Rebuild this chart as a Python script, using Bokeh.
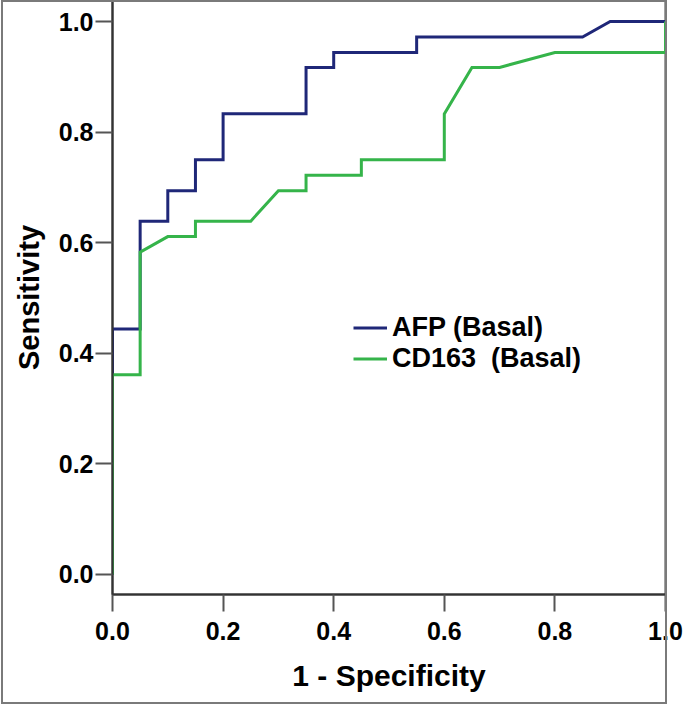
from bokeh.plotting import figure
from bokeh.models import Range1d, FixedTicker, Legend, LegendItem, CustomJSTickFormatter, InlineStyleSheet
from bokeh.embed import file_html
from bokeh.resources import INLINE

# ---- data ----
afp_fpr = [0.0, 0.0, 0.05, 0.05, 0.10, 0.10, 0.15, 0.15, 0.20, 0.20, 0.35, 0.35, 0.40, 0.40, 0.55, 0.55, 0.85, 0.90, 1.0]
afp_tpr = [0.0, 0.444, 0.444, 0.639, 0.639, 0.694, 0.694, 0.750, 0.750, 0.833, 0.833, 0.917, 0.917, 0.944, 0.944, 0.972, 0.972, 1.0, 1.0]
cd163_fpr = [0.0, 0.0, 0.05, 0.05, 0.10, 0.15, 0.15, 0.25, 0.30, 0.35, 0.35, 0.45, 0.45, 0.60, 0.60, 0.65, 0.70, 0.80, 1.0, 1.0]
cd163_tpr = [0.0, 0.361, 0.361, 0.583, 0.611, 0.611, 0.639, 0.639, 0.694, 0.694, 0.722, 0.722, 0.750, 0.750, 0.833, 0.917, 0.917, 0.944, 0.944, 1.0]
series_names = ["AFP (Basal)", "CD163  (Basal)"]
tick_values = [0.0, 0.2, 0.4, 0.6, 0.8, 1.0]
x_title = "1 - Specificity"
y_title = "Sensitivity"

FONT = "Liberation Sans"
BLUE = "#1f2778"
GREEN = "#35b44a"

frame_css = InlineStyleSheet(css="""
:host { position: relative; }
:host::after {
  content: ''; position: absolute; left: 1px; top: 0px; width: 666px; height: 704px;
  border: 2px solid #7a7a7a; box-sizing: border-box; pointer-events: none; z-index: 10;
}
""")

p = figure(width=685, height=707, output_backend="svg", toolbar_location=None,
           x_range=Range1d(0.0, 1.0), y_range=Range1d(-0.0362, 1.038),
           min_border_left=112, min_border_right=20, min_border_top=0, min_border_bottom=113,
           stylesheets=[frame_css])
p.grid.visible = False
p.background_fill_color = "white"
p.border_fill_color = "white"
p.outline_line_color = "#444444"
p.outline_line_width = 2

for ax in (p.xaxis[0], p.yaxis[0]):
    ax.ticker = FixedTicker(ticks=tick_values)
    ax.formatter = CustomJSTickFormatter(code="return tick.toFixed(1);")
    ax.axis_line_color = "#333333"
    ax.axis_line_width = 2
    ax.major_tick_line_color = "#555555"
    ax.major_tick_line_width = 2
    ax.major_tick_out = 17
    ax.major_tick_in = 0
    ax.minor_tick_line_color = None
    ax.major_label_text_font = FONT
    ax.major_label_text_font_style = "bold"
    ax.major_label_text_font_size = "25px"
    ax.major_label_text_color = "black"
    ax.axis_label_text_font = FONT
    ax.axis_label_text_font_style = "bold"
    ax.axis_label_text_color = "black"

p.xaxis.major_label_standoff = 10
p.yaxis.major_label_standoff = 2
p.xaxis.axis_label = x_title
p.xaxis.axis_label_text_font_size = "30px"
p.xaxis.axis_label_standoff = 16
p.yaxis.axis_label = y_title
p.yaxis.axis_label_text_font_size = "29px"
p.yaxis.axis_label_standoff = 11

r1 = p.line(afp_fpr, afp_tpr, line_color=BLUE, line_width=3, line_join="miter")
r2 = p.line(cd163_fpr, cd163_tpr, line_color=GREEN, line_width=3, line_join="miter")

legend = Legend(items=[LegendItem(label=series_names[0], renderers=[r1]),
                       LegendItem(label=series_names[1], renderers=[r2])],
                location=(241, 220), orientation="vertical",
                glyph_width=34, glyph_height=31, label_height=31, label_standoff=5,
                spacing=0, padding=0, margin=0,
                border_line_color=None, background_fill_alpha=0,
                label_text_font=FONT, label_text_font_style="bold",
                label_text_font_size="27px", label_text_color="black")
p.add_layout(legend)

open("out.html", "w").write(file_html(p, INLINE))
